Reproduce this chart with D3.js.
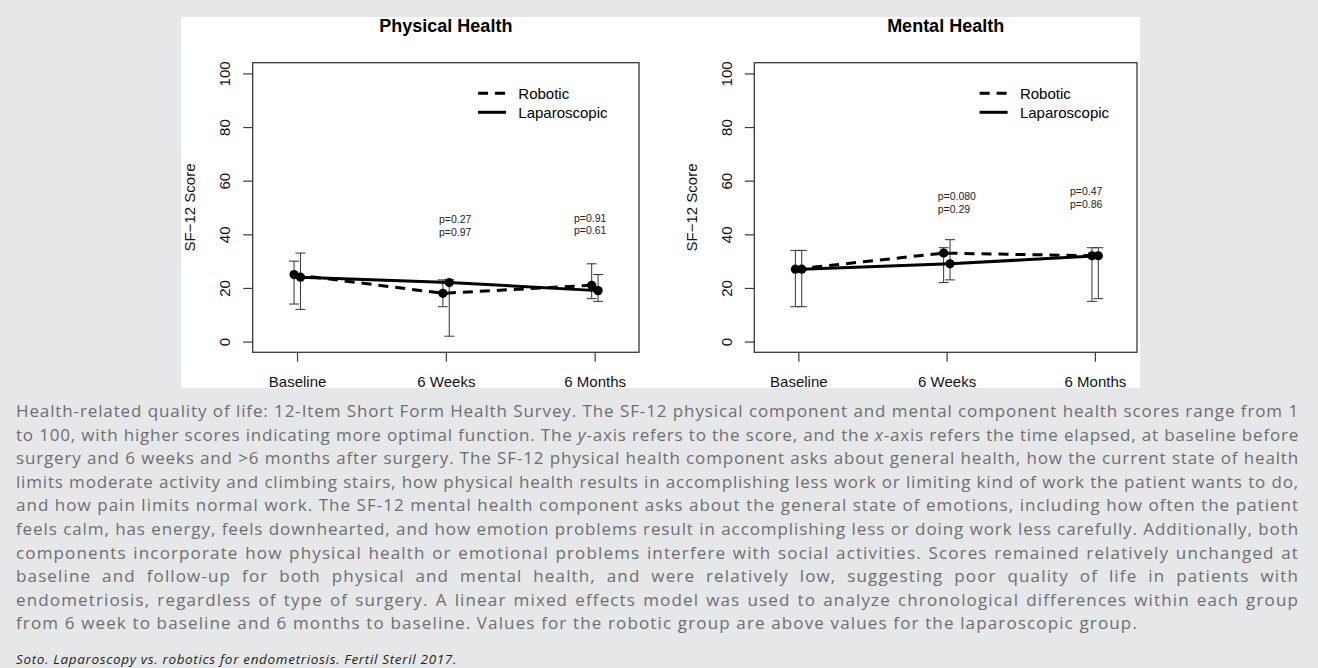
<!DOCTYPE html>
<html><head><meta charset="utf-8">
<script src="https://cdn.jsdelivr.net/npm/d3@7"></script>
<style>
html,body{margin:0;padding:0;}
body{width:1318px;height:668px;background:#e6e7e8;position:relative;overflow:hidden;}
svg{position:absolute;left:0;top:0;}
.cap{position:absolute;left:16px;width:1283px;white-space:nowrap;color:#6d6e71;font-family:"Open Sans","Noto Sans",sans-serif;}
.just{text-align:justify;text-align-last:justify;}
.cite{position:absolute;left:16px;white-space:nowrap;color:#231f20;font-style:italic;font-family:"Open Sans","Noto Sans",sans-serif;}
</style></head><body>
<script>
// ---------------- data ----------------
const categories = ["Baseline", "6 Weeks", "6 Months"];
const yTickValues = [0, 20, 40, 60, 80, 100];
const seriesNames = ["Robotic", "Laparoscopic"];

const physicalRoboticMean = [25, 18, 21];
const physicalRoboticLow  = [14, 13, 16];
const physicalRoboticHigh = [30, 23, 29];
const physicalLapMean = [24, 22, 19];
const physicalLapLow  = [12, 2, 15];
const physicalLapHigh = [33, 23, 25];

const mentalRoboticMean = [27, 33, 32];
const mentalRoboticLow  = [13, 22, 15];
const mentalRoboticHigh = [34, 35, 35];
const mentalLapMean = [27, 29, 32];
const mentalLapLow  = [13, 23, 16];
const mentalLapHigh = [34, 38, 35];

const physicalPLabels = [["p=0.27", "p=0.97"], ["p=0.91", "p=0.61"]];
const physicalPAnchorX = [1.954, 2.861];
const physicalPAnchorY = [44.1, 44.7];
const mentalPLabels = [["p=0.080", "p=0.29"], ["p=0.47", "p=0.86"]];
const mentalPAnchorX = [1.94, 2.832];
const mentalPAnchorY = [52.8, 54.6];

const captionLines = [
  "Health-related quality of life: 12-Item Short Form Health Survey. The SF-12 physical component and mental component health scores range from 1",
  "to 100, with higher scores indicating more optimal function. The <i>y</i>-axis refers to the score, and the <i>x</i>-axis refers the time elapsed, at baseline before",
  "surgery and 6 weeks and &gt;6 months after surgery. The SF-12 physical health component asks about general health, how the current state of health",
  "limits moderate activity and climbing stairs, how physical health results in accomplishing less work or limiting kind of work the patient wants to do,",
  "and how pain limits normal work. The SF-12 mental health component asks about the general state of emotions, including how often the patient",
  "feels calm, has energy, feels downhearted, and how emotion problems result in accomplishing less or doing work less carefully. Additionally, both",
  "components incorporate how physical health or emotional problems interfere with social activities. Scores remained relatively unchanged at",
  "baseline and follow-up for both physical and mental health, and were relatively low, suggesting poor quality of life in patients with",
  "endometriosis, regardless of type of surgery. A linear mixed effects model was used to analyze chronological differences within each group",
  "from 6 week to baseline and 6 months to baseline. Values for the robotic group are above values for the laparoscopic group."
];
const citation = "Soto. Laparoscopy vs. robotics for endometriosis. Fertil Steril 2017.";

// ---------------- chart ----------------
const FONT = '"Liberation Sans", Arial, sans-serif';
const svg = d3.select("body").append("svg").attr("width", 1318).attr("height", 390);
svg.append("rect").attr("x", 181).attr("y", 17).attr("width", 959).attr("height", 371).attr("fill", "#fff");

const TOP = 62.7, BOTTOM = 352.3;
const panels = [
  { title: "Physical Health", left: 252.7, right: 639, xDomain: [0.702, 3.298],
    series: [
      { name: seriesNames[0], mean: physicalRoboticMean, low: physicalRoboticLow, high: physicalRoboticHigh, off: -0.02, dash: "10,7" },
      { name: seriesNames[1], mean: physicalLapMean, low: physicalLapLow, high: physicalLapHigh, off: 0.023, dash: null }
    ],
    pLabels: physicalPLabels, pX: physicalPAnchorX, pY: physicalPAnchorY },
  { title: "Mental Health", left: 754.3, right: 1137, xDomain: [0.703, 3.284],
    series: [
      { name: seriesNames[0], mean: mentalRoboticMean, low: mentalRoboticLow, high: mentalRoboticHigh, off: -0.02, dash: "10,7" },
      { name: seriesNames[1], mean: mentalLapMean, low: mentalLapLow, high: mentalLapHigh, off: 0.023, dash: null }
    ],
    pLabels: mentalPLabels, pX: mentalPAnchorX, pY: mentalPAnchorY }
];

const AXIS = "#3a3a3a";

panels.forEach(p => {
  const g = svg.append("g").attr("font-family", FONT);
  const x = d3.scaleLinear().domain(p.xDomain).range([p.left, p.right]);
  const y = d3.scaleLinear().domain([-4, 104]).range([BOTTOM, TOP]);

  g.append("text").attr("x", (p.left + p.right) / 2).attr("y", 32)
    .attr("text-anchor", "middle").attr("font-weight", "bold").attr("font-size", 18)
    .attr("fill", "#000").text(p.title);

  const ya = g.append("g").attr("transform", `translate(${p.left},0)`)
    .call(d3.axisLeft(y).tickValues(yTickValues).tickSize(9.5).tickFormat(d3.format("d")));
  ya.attr("font-family", FONT).attr("font-size", 15);
  ya.select(".domain").remove();
  ya.selectAll(".tick line").attr("stroke", AXIS).attr("stroke-width", 1.2);
  ya.selectAll(".tick text").attr("transform", "rotate(-90)").attr("x", 0).attr("y", -22.7)
    .attr("dy", 0).attr("text-anchor", "middle").attr("fill", "#111");

  const xa = g.append("g").attr("transform", `translate(0,${BOTTOM})`)
    .call(d3.axisBottom(x).tickValues([1, 2, 3]).tickSize(9.5).tickFormat((d, i) => categories[i]));
  xa.attr("font-family", FONT).attr("font-size", 15);
  xa.select(".domain").remove();
  xa.selectAll(".tick line").attr("stroke", AXIS).attr("stroke-width", 1.2);
  xa.selectAll(".tick text").attr("y", 34.7).attr("dy", 0).attr("fill", "#111");

  g.append("rect").attr("x", p.left).attr("y", TOP).attr("width", p.right - p.left)
    .attr("height", BOTTOM - TOP).attr("fill", "none").attr("stroke", AXIS).attr("stroke-width", 1.3);

  g.append("text").attr("transform", `translate(${p.left - 57.7},${(TOP + BOTTOM) / 2}) rotate(-90)`)
    .attr("text-anchor", "middle").attr("font-size", 15).attr("fill", "#111").text("SF\u221212 Score");

  p.series.forEach(s => {
    const eg = g.append("g").attr("stroke", "#333").attr("stroke-width", 1);
    categories.forEach((c, i) => {
      const cx = x(i + 1 + s.off);
      eg.append("line").attr("x1", cx).attr("x2", cx).attr("y1", y(s.low[i])).attr("y2", y(s.high[i]));
      eg.append("line").attr("x1", cx - 5).attr("x2", cx + 5).attr("y1", y(s.low[i])).attr("y2", y(s.low[i]));
      eg.append("line").attr("x1", cx - 5).attr("x2", cx + 5).attr("y1", y(s.high[i])).attr("y2", y(s.high[i]));
    });
  });
  p.series.forEach(s => {
    const line = d3.line().x((d, i) => x(i + 1 + s.off)).y(d => y(d));
    g.append("path").attr("d", line(s.mean)).attr("fill", "none").attr("stroke", "#000")
      .attr("stroke-width", 3).attr("stroke-dasharray", s.dash);
  });
  p.series.forEach(s => {
    g.selectAll(null).data(s.mean).enter().append("circle")
      .attr("cx", (d, i) => x(i + 1 + s.off)).attr("cy", d => y(d)).attr("r", 4.6).attr("fill", "#000");
  });

  p.pLabels.forEach((lab, k) => {
    const t = g.append("text").attr("x", x(p.pX[k])).attr("y", y(p.pY[k]))
      .attr("font-size", 10.5).attr("fill", "#222");
    lab.forEach((l, j) => t.append("tspan").attr("x", x(p.pX[k])).attr("dy", j === 0 ? 0 : 12.7).text(l));
  });

  const lg = g.append("g");
  p.series.forEach((s, j) => {
    const ly = TOP + 30.6 + j * 19;
    lg.append("line").attr("x1", p.left + 225.3).attr("x2", p.left + 253.3).attr("y1", ly).attr("y2", ly)
      .attr("stroke", "#000").attr("stroke-width", 3).attr("stroke-dasharray", s.dash);
    lg.append("text").attr("x", p.left + 265.6).attr("y", ly + 6).attr("font-size", 15)
      .attr("fill", "#000").text(s.name);
  });
});

// ---------------- caption ----------------
const CAPFONT = '"Open Sans","Noto Sans",sans-serif';
const CAP_SIZE = 17;
function measure(html, size, style, ls) {
  const s = document.createElement("span");
  s.style.cssText = `position:absolute;visibility:hidden;white-space:nowrap;font-family:${CAPFONT};font-size:${size}px;font-style:${style || "normal"};letter-spacing:${ls || 0}px`;
  s.innerHTML = html;
  document.body.appendChild(s);
  const w = s.getBoundingClientRect().width;
  const n = s.textContent.length;
  s.remove();
  return { w, n };
}
const lastM = measure(captionLines[captionLines.length - 1], CAP_SIZE);
const baseLS = (1122 - lastM.w) / lastM.n;
const LINE_H = 23.6;
captionLines.forEach((html, i) => {
  const d = document.createElement("div");
  d.className = "cap" + (i < captionLines.length - 1 ? " just" : "");
  d.style.top = (399 + i * LINE_H) + "px";
  d.style.height = LINE_H + "px";
  d.style.fontSize = CAP_SIZE + "px";
  d.style.lineHeight = LINE_H + "px";
  let ls = baseLS;
  if (i < captionLines.length - 1) {
    const m = measure(html, CAP_SIZE, "normal", ls);
    if (m.w > 1280) ls = ls + (1280 - m.w) / m.n;
  }
  d.style.letterSpacing = ls + "px";
  d.innerHTML = html;
  document.body.appendChild(d);
});
const cm = measure(citation, 13.5, "italic");
const cd = document.createElement("div");
cd.className = "cite";
cd.style.fontSize = "13.5px";
cd.style.letterSpacing = ((441 - cm.w) / cm.n) + "px";
cd.style.lineHeight = "18px";
cd.style.top = "650px";
cd.textContent = citation;
document.body.appendChild(cd);
</script>
</body></html>
